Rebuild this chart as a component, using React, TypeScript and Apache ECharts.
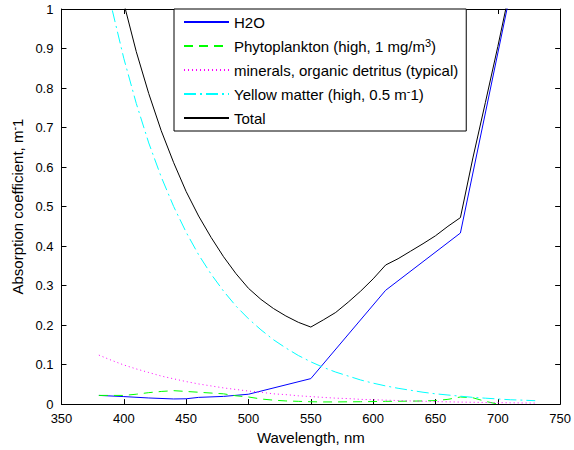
import React, { useEffect, useRef } from "react";
import * as echarts from "echarts";

// Wavelength grid (nm) for the smooth curves
const wavelengths = [
  380, 390, 400, 410, 420, 430, 440, 450, 460, 470, 480, 490, 500, 510, 520, 530,
  540, 550, 560, 570, 580, 590, 600, 610, 620, 630, 640, 650, 660, 670, 680, 690,
  700, 710, 720, 730,
];

// Pure water (sparse table, drawn as straight segments)
const waterWl = [380, 400, 420, 440, 450, 460, 480, 500, 550, 610, 670, 710];
const waterAbs = [0.022, 0.019, 0.0155, 0.013, 0.0135, 0.017, 0.0195, 0.025, 0.0645, 0.288, 0.433, 1.04];

// Phytoplankton (380..700 nm)
const phytoWl = [
  380, 390, 400, 410, 420, 430, 440, 450, 460, 470, 480, 490, 500, 510, 520, 530,
  540, 550, 560, 570, 580, 590, 600, 610, 620, 630, 640, 650, 660, 670, 680, 690, 700,
];
const phytoAbs = [
  0.022, 0.022, 0.022, 0.025, 0.029, 0.032, 0.034, 0.032, 0.03, 0.028, 0.026, 0.021,
  0.018, 0.013, 0.01, 0.008, 0.007, 0.006, 0.0055, 0.0055, 0.0058, 0.006, 0.0065,
  0.007, 0.0072, 0.0075, 0.008, 0.009, 0.012, 0.018, 0.016, 0.007, 0.0,
];

// Minerals, organic detritus (380..730 nm)
const mineralAbs = [
  0.124, 0.111, 0.099, 0.089, 0.08, 0.071, 0.064, 0.057, 0.051, 0.046, 0.041, 0.037,
  0.033, 0.03, 0.026, 0.024, 0.021, 0.019, 0.017, 0.015, 0.014, 0.012, 0.011, 0.01,
  0.009, 0.008, 0.0072, 0.0064, 0.0057, 0.0051, 0.0046, 0.0041, 0.0037, 0.0033,
  0.0029, 0.0026,
];

// Yellow matter (380..730 nm)
const yellowAbs = [
  1.16, 1.007, 0.875, 0.761, 0.661, 0.575, 0.5, 0.435, 0.378, 0.329, 0.286, 0.248,
  0.216, 0.188, 0.163, 0.142, 0.123, 0.107, 0.093, 0.081, 0.071, 0.061, 0.053, 0.046,
  0.04, 0.035, 0.03, 0.026, 0.023, 0.02, 0.017, 0.015, 0.013, 0.011, 0.01, 0.0086,
];

// Total (400..710 nm)
const totalWl = [
  400, 410, 420, 430, 440, 450, 460, 470, 480, 490, 500, 510, 520, 530, 540, 550,
  560, 570, 580, 590, 600, 610, 620, 630, 640, 650, 660, 670, 680, 690, 700, 710,
];
const totalAbs = [
  1.015, 0.892, 0.786, 0.692, 0.611, 0.538, 0.476, 0.422, 0.373, 0.33, 0.293, 0.265,
  0.242, 0.223, 0.207, 0.195, 0.213, 0.232, 0.258, 0.286, 0.317, 0.352, 0.368, 0.387,
  0.406, 0.426, 0.45, 0.472, 0.623, 0.763, 0.905, 1.054,
];

const seriesNames = [
  "H2O",
  "Phytoplankton (high, 1 mg/m3)",
  "minerals, organic detritus (typical)",
  "Yellow matter (high, 0.5 m-1)",
  "Total",
];
const legendLabels: Record<string, string> = {
  "H2O": "{p|H2O}",
  "Phytoplankton (high, 1 mg/m3)": "{p|Phytoplankton (high, 1 mg/m}{s|3}{p|)}",
  "minerals, organic detritus (typical)": "{p|minerals, organic detritus (typical)}",
  "Yellow matter (high, 0.5 m-1)": "{p|Yellow matter (high, 0.5 m}{s|-}{p|1)}",
  "Total": "{p|Total}",
};

const xTicks = { min: 350, max: 750, interval: 50 };
const yTicks = { min: 0, max: 1, interval: 0.1 };

const pairs = (xs: number[], ys: number[]) => xs.map((x, i) => [x, ys[i]]);

export default function App() {
  const ref = useRef<HTMLDivElement>(null);
  useEffect(() => {
    const chart = echarts.init(ref.current!, null, { renderer: "svg" });
    const font = "'Liberation Sans', Arial, Helvetica, sans-serif";
    const axisLine = { show: true, onZero: false, lineStyle: { color: "#000", width: 1 } };
    const axisTick = { show: true, inside: true, length: 5, lineStyle: { color: "#000", width: 1 } };
    const label = { color: "#000", fontSize: 13, fontFamily: font, margin: 8 };
    const mk = (name: string, data: number[][], color: string, type: any) => ({
      name,
      type: "line",
      data,
      symbol: "none",
      showSymbol: false,
      clip: true,
      lineStyle: { color, width: 1, type },
      itemStyle: { color },
      emphasis: { disabled: true },
    });
    chart.setOption({
      animation: false,
      backgroundColor: "#fff",
      textStyle: { fontFamily: font },
      grid: { left: 58, right: 13, top: 9, bottom: 45.5, containLabel: false },
      xAxis: [
        {
          type: "value",
          ...xTicks,
          position: "bottom",
          axisLine,
          axisTick,
          axisLabel: label,
          splitLine: { show: false },
          name: "Wavelength, nm",
          nameLocation: "middle",
          nameGap: 24,
          nameTextStyle: { color: "#000", fontSize: 15, fontFamily: font },
        },
        {
          type: "value",
          ...xTicks,
          position: "top",
          axisLine,
          axisTick,
          axisLabel: { show: false },
          splitLine: { show: false },
        },
      ],
      yAxis: [
        {
          type: "value",
          ...yTicks,
          position: "left",
          axisLine,
          axisTick,
          axisLabel: label,
          splitLine: { show: false },
          name: "{n|Absorption coefficient, m}{s|-}{n|1}",
          nameLocation: "middle",
          nameGap: 34,
          nameTextStyle: {
            color: "#000",
            fontSize: 15,
            fontFamily: font,
            rich: {
              n: { fontSize: 15, lineHeight: 18, fontFamily: font, color: "#000" },
              s: { fontSize: 11, lineHeight: 12, verticalAlign: "top", padding: [0, 0, 0, 0], fontFamily: font, color: "#000" },
            },
          },
        },
        {
          type: "value",
          ...yTicks,
          position: "right",
          axisLine,
          axisTick,
          axisLabel: { show: false },
          splitLine: { show: false },
        },
      ],
      legend: {
        data: seriesNames,
        orient: "vertical",
        left: 174,
        top: 9,
        padding: [3, 8, 3, 9],
        itemWidth: 45,
        itemHeight: 2,
        itemGap: 4,
        selectedMode: false,
        backgroundColor: "#fff",
        borderColor: "#000",
        borderWidth: 1,
        borderRadius: 0,
        itemStyle: { opacity: 0 },
        formatter: (name: string) => legendLabels[name] || name,
        textStyle: {
          color: "#000",
          fontSize: 15,
          fontFamily: font,
          lineHeight: 20,
          rich: {
            p: { fontSize: 15, lineHeight: 20, fontFamily: font, color: "#000" },
            s: { fontSize: 11, lineHeight: 12, verticalAlign: "top", padding: [1, 0, 0, 0], fontFamily: font, color: "#000" },
          },
        },
      },
      series: [
        mk(seriesNames[0], pairs(waterWl, waterAbs), "#0000ff", "solid"),
        mk(seriesNames[1], pairs(phytoWl, phytoAbs), "#00ff00", [9, 6]),
        mk(seriesNames[2], pairs(wavelengths, mineralAbs), "#ff00ff", [1, 3]),
        mk(seriesNames[3], pairs(wavelengths, yellowAbs), "#00ffff", [12, 4, 2, 4]),
        mk(seriesNames[4], pairs(totalWl, totalAbs), "#000000", "solid"),
      ],
    });
    return () => chart.dispose();
  }, []);
  return (
    <div
      ref={ref}
      style={{ position: "absolute", left: 0, top: 0, width: 574, height: 450, background: "#fff" }}
    />
  );
}
